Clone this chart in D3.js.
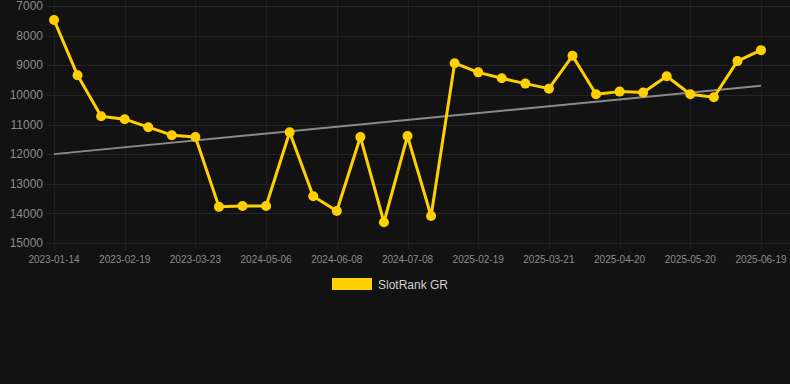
<!DOCTYPE html>
<html>
<head>
<meta charset="utf-8">
<script src="https://cdn.jsdelivr.net/npm/d3@7"></script>
<style>
  body { margin: 0; background: #121212; }
  svg { display: block; font-family: Arial, "Liberation Sans", sans-serif; }
</style>
</head>
<body>
<div id="chart"></div>
<script>
// Chart size
var width = 790;
var height = 384;

// Dates (only every third one is printed on the axis)
var dates = [
  "2023-01-14", "2023-01-26", "2023-02-07",
  "2023-02-19", "2023-03-02", "2023-03-13",
  "2023-03-23", "2024-04-08", "2024-04-22",
  "2024-05-06", "2024-05-17", "2024-05-28",
  "2024-06-08", "2024-06-18", "2024-06-28",
  "2024-07-08", "2024-07-18", "2025-02-09",
  "2025-02-19", "2025-03-01", "2025-03-11",
  "2025-03-21", "2025-03-31", "2025-04-10",
  "2025-04-20", "2025-04-30", "2025-05-10",
  "2025-05-20", "2025-05-30", "2025-06-09",
  "2025-06-19"
];

// SlotRank GR rank values
var ranks = [
  7470, 9340, 10720, 10820, 11090, 11360, 11420, 13780, 13750, 13750,
  11260, 13420, 13920, 11420, 14300, 11390, 14090, 8930, 9240, 9440,
  9620, 9790, 8680, 9980, 9890, 9920, 9370, 9980, 10080, 8860, 8490
];

// Trend line (start and end value)
var trend = [12000, 9690];

var yTicks = [7000, 8000, 9000, 10000, 11000, 12000, 13000, 14000, 15000];
var seriesName = "SlotRank GR";

var lineColor = "#ffd000";

var svg = d3.select("#chart")
  .append("svg")
  .attr("width", width)
  .attr("height", height);

svg.append("rect")
  .attr("width", width)
  .attr("height", height)
  .attr("fill", "#121212");

var x = d3.scalePoint()
  .domain(dates)
  .range([54, 761]);

var y = d3.scaleLinear()
  .domain([7000, 15000])
  .range([6, 243]);

// Horizontal grid
svg.append("g")
  .selectAll("line")
  .data(yTicks)
  .join("line")
  .attr("x1", 47)
  .attr("x2", width)
  .attr("y1", d => Math.round(y(d)) + 0.5)
  .attr("y2", d => Math.round(y(d)) + 0.5)
  .attr("stroke", "#252525")
  .attr("stroke-width", 1);

// Vertical grid, only on printed labels
var shownDates = dates.filter((d, i) => i % 3 == 0);
svg.append("g")
  .selectAll("line")
  .data(shownDates)
  .join("line")
  .attr("x1", d => Math.round(x(d)) + 0.5)
  .attr("x2", d => Math.round(x(d)) + 0.5)
  .attr("y1", 0)
  .attr("y2", 250)
  .attr("stroke", "#1f1f1f")
  .attr("stroke-width", 1);

// Y axis labels
svg.append("g")
  .selectAll("text")
  .data(yTicks)
  .join("text")
  .attr("x", 43)
  .attr("y", d => y(d))
  .attr("dy", "0.35em")
  .attr("text-anchor", "end")
  .attr("font-size", 12)
  .attr("fill", "#8c8c8c")
  .text(d => d);

// X axis labels
svg.append("g")
  .selectAll("text")
  .data(shownDates)
  .join("text")
  .attr("x", d => x(d))
  .attr("y", 263)
  .attr("text-anchor", "middle")
  .attr("font-size", 10)
  .attr("fill", "#8c8c8c")
  .text(d => d);

// Trend line
svg.append("line")
  .attr("x1", x(dates[0]))
  .attr("y1", y(trend[0]))
  .attr("x2", x(dates[dates.length - 1]))
  .attr("y2", y(trend[1]))
  .attr("stroke", "#8a8a8a")
  .attr("stroke-width", 2);

// Rank line
var line = d3.line()
  .x((d, i) => x(dates[i]))
  .y(d => y(d));

svg.append("path")
  .datum(ranks)
  .attr("d", line)
  .attr("fill", "none")
  .attr("stroke", lineColor)
  .attr("stroke-width", 3)
  .attr("stroke-linejoin", "round");

svg.append("g")
  .selectAll("circle")
  .data(ranks)
  .join("circle")
  .attr("cx", (d, i) => x(dates[i]))
  .attr("cy", d => y(d))
  .attr("r", 5)
  .attr("fill", lineColor);

// Legend
svg.append("rect")
  .attr("x", 332)
  .attr("y", 278)
  .attr("width", 40)
  .attr("height", 12)
  .attr("fill", lineColor);

svg.append("text")
  .attr("x", 378)
  .attr("y", 289)
  .attr("font-size", 12)
  .attr("fill", "#d0d0d0")
  .text(seriesName);
</script>
</body>
</html>
